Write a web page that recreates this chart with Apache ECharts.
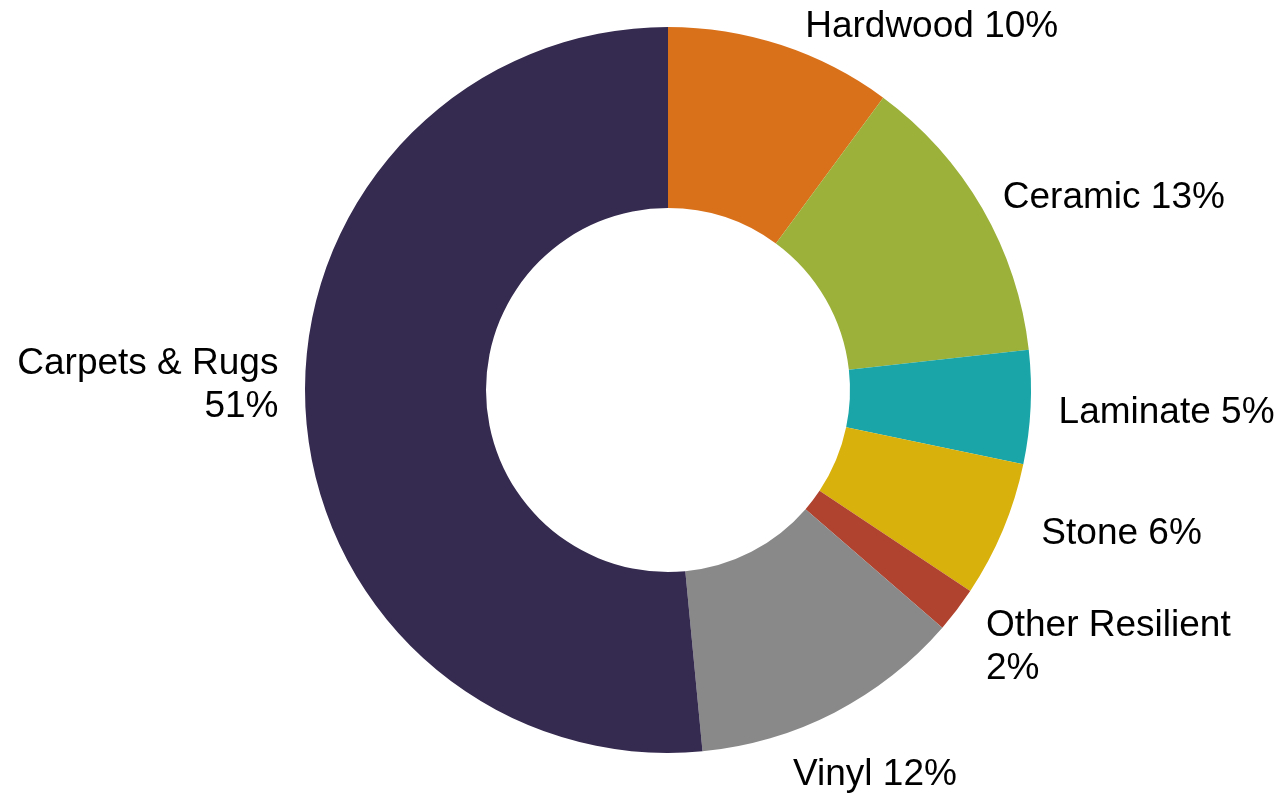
<!DOCTYPE html>
<html>
<head>
<meta charset="utf-8">
<script src="https://cdn.jsdelivr.net/npm/echarts@6/dist/echarts.min.js"></script>
<style>
  html, body { margin: 0; padding: 0; background: #fff; }
  #chart { width: 1281px; height: 794px; }
</style>
</head>
<body>
<div id="chart"></div>
<script>
// flooring market share, clockwise from 12 o'clock
var categories = ["Hardwood", "Ceramic", "Laminate", "Stone", "Other Resilient", "Vinyl", "Carpets & Rugs"];
var shares = [10, 13, 5, 6, 2, 12, 51];
var colors = ["#D9711B", "#9BB13A", "#1AA6A8", "#D9B10C", "#B0432F", "#898989", "#352A4F"];

var pieData = categories.map(function (name, i) {
  return { name: name, value: shares[i], itemStyle: { color: colors[i] } };
});

// small label tweaks so the labels sit where the original (Excel) put them
var labelShift = {
  "Ceramic": [-14, -1],
  "Laminate": [-9, 5],
  "Stone": [3, -4],
  "Other Resilient": [-4, 26],
  "Vinyl": [-68, 45],
  "Carpets & Rugs": [10, -23]
};

var myChart = echarts.init(document.getElementById("chart"));
myChart.setOption({
  animation: false,
  series: [
    {
      type: "pie",
      center: [668, 390],
      radius: [182, 363],
      startAngle: 90,
      clockwise: true,
      avoidLabelOverlap: false,
      data: pieData,
      label: {
        show: true,
        position: "outside",
        color: "#000",
        fontFamily: "Liberation Sans, Arial, sans-serif",
        fontSize: 37,
        lineHeight: 43,
        // long names wrap the percentage onto a second line
        formatter: function (p) {
          var sep = p.name.length > 12 ? "\n" : " ";
          return p.name + sep + p.value + "%";
        }
      },
      labelLine: { show: false, length: 19, length2: 13 },
      labelLayout: function (params) {
        var s = labelShift[categories[params.dataIndex]];
        if (!s) return {};
        return { dx: s[0], dy: s[1] };
      },
      emphasis: { disabled: true }
    }
  ]
});

window.addEventListener("resize", function () {
  myChart.resize();
});
</script>
</body>
</html>
